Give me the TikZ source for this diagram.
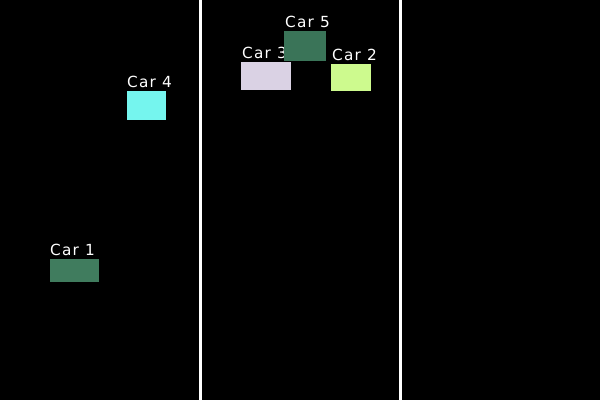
\documentclass[tikz,border=0pt]{standalone}
\usepackage{fontspec}
\setmainfont{DejaVu Sans}
\newfontfamily\carfont[LetterSpace=8]{DejaVu Sans}
\definecolor{cone}{RGB}{64,124,94}
\definecolor{ctwo}{RGB}{205,250,142}
\definecolor{cthree}{RGB}{218,210,228}
\definecolor{cfour}{RGB}{117,245,238}
\definecolor{cfive}{RGB}{58,116,88}
\begin{document}
\begin{tikzpicture}[x=1pt,y=-1pt,
  carbox/.style={draw=none,inner sep=0pt,outer sep=0pt,anchor=north west},
  carlabel/.style={text=white,inner sep=0pt,anchor=base west,font=\carfont\fontsize{15.3}{16}\selectfont},
  laneline/.style={white,line width=3pt}]
\fill[black] (0,0) rectangle (600,400);
\useasboundingbox (0,0) rectangle (600,400);
\coordinate (l1t) at (200.5,0); \coordinate (l1b) at (200.5,400);
\coordinate (l2t) at (400.5,0); \coordinate (l2b) at (400.5,400);
\draw[laneline] (l1t) -- (l1b);
\draw[laneline] (l2t) -- (l2b);
% Car 1
\node[carbox,fill=cone,minimum width=49pt,minimum height=23pt] (c1) at (50,259) {};
\node[carlabel] (t1) at (50,255) {Car 1};
% Car 2
\node[carbox,fill=ctwo,minimum width=40pt,minimum height=27pt] (c2) at (331,64) {};
\node[carlabel] (t2) at (332,60) {Car 2};
% Car 3
\node[carbox,fill=cthree,minimum width=50pt,minimum height=28pt] (c3) at (241,62) {};
\node[carlabel] (t3) at (242,58) {Car 3};
% Car 4
\node[carbox,fill=cfour,minimum width=39pt,minimum height=29pt] (c4) at (127,91) {};
\node[carlabel] (t4) at (127,87) {Car 4};
% Car 5
\node[carbox,fill=cfive,minimum width=42pt,minimum height=30pt] (c5) at (284,31) {};
\node[carlabel] (t5) at (285,27) {Car 5};
\end{tikzpicture}
\end{document}
